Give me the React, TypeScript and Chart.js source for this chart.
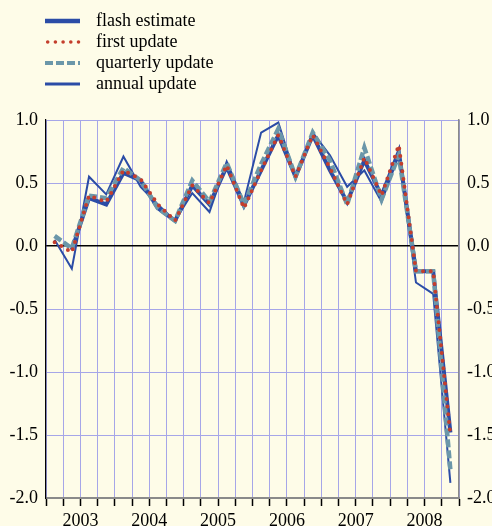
import React, { useEffect, useRef } from "react";
import { Chart, registerables } from "chart.js";

Chart.register(...registerables);

const quarters = [
  "2003Q1", "2003Q2", "2003Q3", "2003Q4",
  "2004Q1", "2004Q2", "2004Q3", "2004Q4",
  "2005Q1", "2005Q2", "2005Q3", "2005Q4",
  "2006Q1", "2006Q2", "2006Q3", "2006Q4",
  "2007Q1", "2007Q2", "2007Q3", "2007Q4",
  "2008Q1", "2008Q2", "2008Q3", "2008Q4",
];

const yearLabels = ["2003", "2004", "2005", "2006", "2007", "2008"];

const flashEstimate = [null, -0.03, 0.38, 0.33, 0.58, 0.52, 0.30, 0.20, 0.48, 0.33, 0.63, 0.32, 0.60, 0.88, 0.55, 0.88, 0.60, 0.35, 0.68, 0.40, 0.75, -0.20, -0.20, -1.48];
const firstUpdate = [0.03, -0.05, 0.40, 0.35, 0.60, 0.53, 0.33, 0.20, 0.48, 0.34, 0.64, 0.30, 0.60, 0.88, 0.55, 0.88, 0.62, 0.33, 0.70, 0.40, 0.80, -0.20, -0.20, -1.50];
const quarterlyUpdate = [0.08, -0.02, 0.40, 0.38, 0.62, 0.52, 0.30, 0.20, 0.52, 0.35, 0.66, 0.33, 0.65, 0.93, 0.55, 0.90, 0.68, 0.33, 0.78, 0.37, 0.72, -0.20, -0.20, -1.78];
const annualUpdate = [0.05, -0.18, 0.55, 0.41, 0.71, 0.47, 0.33, 0.20, 0.42, 0.27, 0.67, 0.35, 0.90, 0.98, 0.55, 0.90, 0.72, 0.47, 0.60, 0.35, 0.72, -0.29, -0.38, -1.88];

const seriesNames = ["flash estimate", "first update", "quarterly update", "annual update"];

const BLUE = "#2b4ca6";
const RED = "#c43e2c";
const TEAL = "#6b97a9";
const GRID = "#a6a6e8";
const BG = "#fefce8";
const TEXT = "#000";
const FONT = '"Liberation Serif", "Times New Roman", serif';
const FONT_SIZE = 18;

const legendPlugin = {
  id: "stackedLegend",
  afterDraw(chart: any) {
    const ctx = chart.ctx;
    ctx.save();
    chart.data.datasets.forEach((ds: any, i: number) => {
      const y = 21 + i * 21;
      ctx.beginPath();
      ctx.strokeStyle = ds.borderColor;
      ctx.lineWidth = ds.legendWidth;
      ctx.setLineDash(ds.borderDash || []);
      ctx.lineCap = ds.borderCapStyle || "butt";
      const x0 = ds.borderCapStyle === "round" ? 47.7 : 45;
      ctx.moveTo(x0, y);
      ctx.lineTo(80, y);
      ctx.stroke();
      ctx.setLineDash([]);
      ctx.fillStyle = TEXT;
      ctx.font = `${FONT_SIZE}px ${FONT}`;
      ctx.textBaseline = "middle";
      ctx.textAlign = "left";
      ctx.fillText(ds.label, 96, y);
    });
    ctx.restore();
  },
};

export default function App() {
  const ref = useRef<HTMLCanvasElement | null>(null);

  useEffect(() => {
    if (!ref.current) return;
    const chart = new Chart(ref.current, {
      type: "line",
      data: {
        labels: quarters,
        datasets: [
          {
            label: seriesNames[0],
            data: flashEstimate,
            borderColor: BLUE,
            borderWidth: 4,
            legendWidth: 4.5,
            order: 2,
          },
          {
            label: seriesNames[1],
            data: firstUpdate,
            borderColor: RED,
            borderWidth: 4,
            legendWidth: 3.6,
            borderDash: [0, 7.7],
            borderCapStyle: "round",
            order: 0,
          },
          {
            label: seriesNames[2],
            data: quarterlyUpdate,
            borderColor: TEAL,
            borderWidth: 4.5,
            legendWidth: 4,
            borderDash: [8, 3],
            order: 1,
          },
          {
            label: seriesNames[3],
            data: annualUpdate,
            borderColor: BLUE,
            borderWidth: 2,
            legendWidth: 3,
            order: 3,
          },
        ] as any,
      },
      options: {
        animation: false,
        responsive: false,
        maintainAspectRatio: false,
        layout: { padding: { top: 120, left: 0, right: 0, bottom: 0 } },
        elements: {
          point: { radius: 0, hoverRadius: 0 },
          line: { tension: 0, fill: false },
        },
        plugins: {
          legend: { display: false },
          tooltip: { enabled: false },
        },
        scales: {
          x: {
            type: "category",
            offset: true,
            grid: {
              offset: true,
              color: GRID,
              lineWidth: 1,
              drawTicks: true,
              tickLength: 8,
              tickColor: "#000",
              tickWidth: 1.5,
            },
            border: { color: "#8a8a8a", width: 2 },
            ticks: {
              autoSkip: false,
              maxRotation: 0,
              minRotation: 0,
              labelOffset: 8.6,
              padding: 4,
              color: TEXT,
              font: { family: FONT, size: FONT_SIZE },
              callback: (_v: any, i: number) => (i % 4 === 1 ? yearLabels[(i - 1) / 4] : ""),
            },
            afterFit: (s: any) => {
              s.height = 28;
            },
          },
          y: {
            position: "left",
            min: -2,
            max: 1,
            grid: {
              color: (c: any) => (c.tick && c.tick.value === 0 ? "#000" : GRID),
              lineWidth: (c: any) => (c.tick && c.tick.value === 0 ? 1.5 : 1),
              drawTicks: false,
            },
            border: { color: "#000", width: 1.2 },
            ticks: {
              stepSize: 0.5,
              padding: 8,
              color: TEXT,
              font: { family: FONT, size: FONT_SIZE },
              callback: (v: any) => Number(v).toFixed(1),
            },
            afterFit: (s: any) => {
              s.width = 46;
            },
          },
          y2: {
            position: "right",
            min: -2,
            max: 1,
            grid: { display: false, drawTicks: false },
            border: { color: "#8a8a8a", width: 1.5 },
            ticks: {
              stepSize: 0.5,
              padding: 8,
              color: TEXT,
              font: { family: FONT, size: FONT_SIZE },
              callback: (v: any) => Number(v).toFixed(1),
            },
            afterFit: (s: any) => {
              s.width = 33;
            },
          },
        },
      } as any,
      plugins: [legendPlugin],
    });
    return () => chart.destroy();
  }, []);

  return (
    <div
      style={{
        position: "fixed",
        left: 0,
        top: 0,
        width: 492,
        height: 526,
        background: BG,
        overflow: "hidden",
      }}
    >
      <canvas ref={ref} width={492} height={526} style={{ display: "block" }} />
    </div>
  );
}
